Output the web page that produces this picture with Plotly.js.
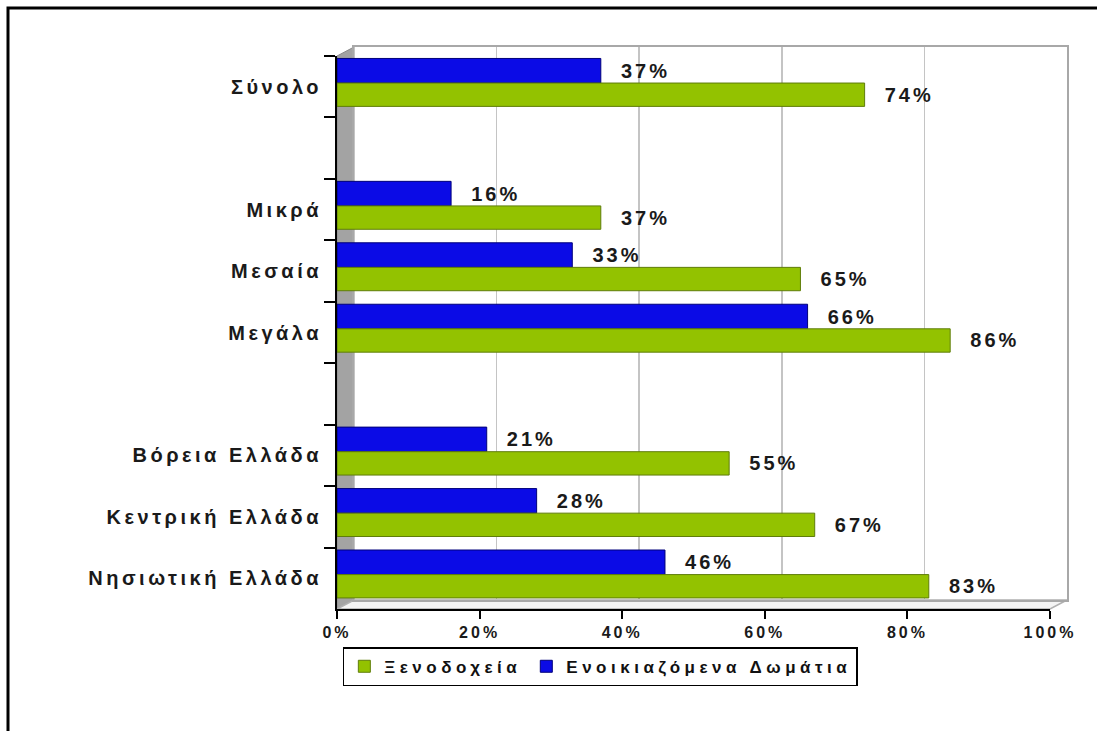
<!DOCTYPE html>
<html><head><meta charset="utf-8">
<script src="https://cdn.plot.ly/plotly-3.0.1.min.js"></script>
<style>
html,body{margin:0;padding:0;background:#fff;}
#chart{width:1097px;height:731px;}
.legendtext{letter-spacing:4.5px;}
.y2tick text{letter-spacing:3.5px;}
.x2tick text{letter-spacing:3px;}
.bartext{letter-spacing:3px;}
</style></head><body><div id="chart"></div>
<script>
const categories = ["Σύνολο", " ", "Μικρά", "Μεσαία", "Μεγάλα", "  ", "Βόρεια Ελλάδα", "Κεντρική Ελλάδα", "Νησιωτική Ελλάδα"];
const hotels = [74, null, 37, 65, 86, null, 55, 67, 83];
const rooms = [37, null, 16, 33, 66, null, 21, 28, 46];
const seriesNames = ["Ξενοδοχεία", "Ενοικιαζόμενα Δωμάτια"];
const xTicks = [0, 20, 40, 60, 80, 100];
const xTickText = xTicks.map(v => v + '%');

const FONT = '"Liberation Sans", Arial, sans-serif';
const pad = '\u00a0\u00a0';

const traces = [
  {type:'scatter', x:[], y:[], xaxis:'x', yaxis:'y', showlegend:false, hoverinfo:'skip'},
  {type:'bar', orientation:'h', name:seriesNames[1], y:categories, x:rooms,
   xaxis:'x2', yaxis:'y2', legendrank:2, offset:-0.46, width:0.40,
   marker:{color:'#0b0be6', line:{color:'#00007a', width:1}},
   texttemplate: pad + '%{x}%', textposition:'outside', cliponaxis:false,
   textfont:{family:FONT, size:20, color:'#1a1a1a', weight:'bold'}},
  {type:'bar', orientation:'h', name:seriesNames[0], y:categories, x:hotels,
   xaxis:'x2', yaxis:'y2', legendrank:1, offset:-0.06, width:0.38,
   marker:{color:'#93c200', line:{color:'#5f7d0a', width:1}},
   texttemplate: pad + '%{x}%', textposition:'outside', cliponaxis:false,
   textfont:{family:FONT, size:20, color:'#1a1a1a', weight:'bold'}}
];

const W = 730, H = 562, dx = 17, dy = 9;
const fx = (W - dx) / W, fy = (H - dy) / H;

const layout = {
  width:1097, height:731,
  margin:{l:337, r:30, t:47, b:122},
  paper_bgcolor:'#ffffff', plot_bgcolor:'rgba(0,0,0,0)',
  font:{family:FONT, color:'#1a1a1a'},
  barmode:'group', bargap:0.22, bargroupgap:0,
  showlegend:true,
  legend:{orientation:'h', x:0.008, y:-0.068, xanchor:'left', yanchor:'top',
    bordercolor:'#000', borderwidth:1.5, bgcolor:'#fff',
    font:{family:FONT, size:17, color:'#111', weight:'bold'}},
  // back wall (3D)
  xaxis:{domain:[dx / W, 1], range:[0,100], anchor:'y', tickvals:xTicks,
    showgrid:true, gridcolor:'#c4c4c4', gridwidth:1.5, zeroline:false,
    showline:true, mirror:true, linecolor:'#a8a8a8', linewidth:2,
    showticklabels:false, ticks:'', fixedrange:true},
  yaxis:{domain:[dy / H, 1], range:[0,1], anchor:'x', showgrid:false, zeroline:false,
    showline:true, mirror:true, linecolor:'#a8a8a8', linewidth:2,
    showticklabels:false, ticks:'', fixedrange:true},
  // front axes with bars
  xaxis2:{domain:[0, fx], range:[0,100], anchor:'y2', tickmode:'array', tickvals:xTicks, ticktext:xTickText,
    showgrid:false, zeroline:false, showline:true, linecolor:'#000', linewidth:2,
    ticks:'outside', ticklen:8, tickcolor:'#000', tickwidth:2,
    tickfont:{family:FONT, size:16, color:'#1a1a1a', weight:'bold'}, fixedrange:true},
  yaxis2:{domain:[0, fy], anchor:'x2', type:'category', autorange:'reversed',
    showgrid:false, zeroline:false, showline:true, linecolor:'#000', linewidth:2,
    ticks:'outside', ticklen:11, tickcolor:'#000', tickwidth:2, tickson:'boundaries',
    tickfont:{family:FONT, size:20, color:'#1a1a1a', weight:'bold'}, ticklabelstandoff:9,
    fixedrange:true},
  shapes:[
    // left side wall
    {type:'path', xref:'paper', yref:'paper', layer:'below',
     path:`M 0 0 L 0 ${fy} L ${dx/W} 1 L ${dx/W} ${dy/H} Z`,
     fillcolor:'#a3a3a3', line:{color:'#8a8a8a', width:1}},
    // floor
    {type:'path', xref:'paper', yref:'paper', layer:'below',
     path:`M 0 0 L ${fx} 0 L 1 ${dy/H} L ${dx/W} ${dy/H} Z`,
     fillcolor:'#f4f4f4', line:{color:'#b0b0b0', width:1.5}},
    // outer frame (top and left)
    {type:'path', xref:'paper', yref:'paper', layer:'above',
     path:`M ${(8-337)/W} ${(609-760)/H} L ${(8-337)/W} ${(609-8)/H} L ${(1110-337)/W} ${(609-8)/H}`,
     line:{color:'#000', width:3}}
  ]
};

Plotly.newPlot('chart', traces, layout, {displayModeBar:false, staticPlot:true});
</script></body></html>
